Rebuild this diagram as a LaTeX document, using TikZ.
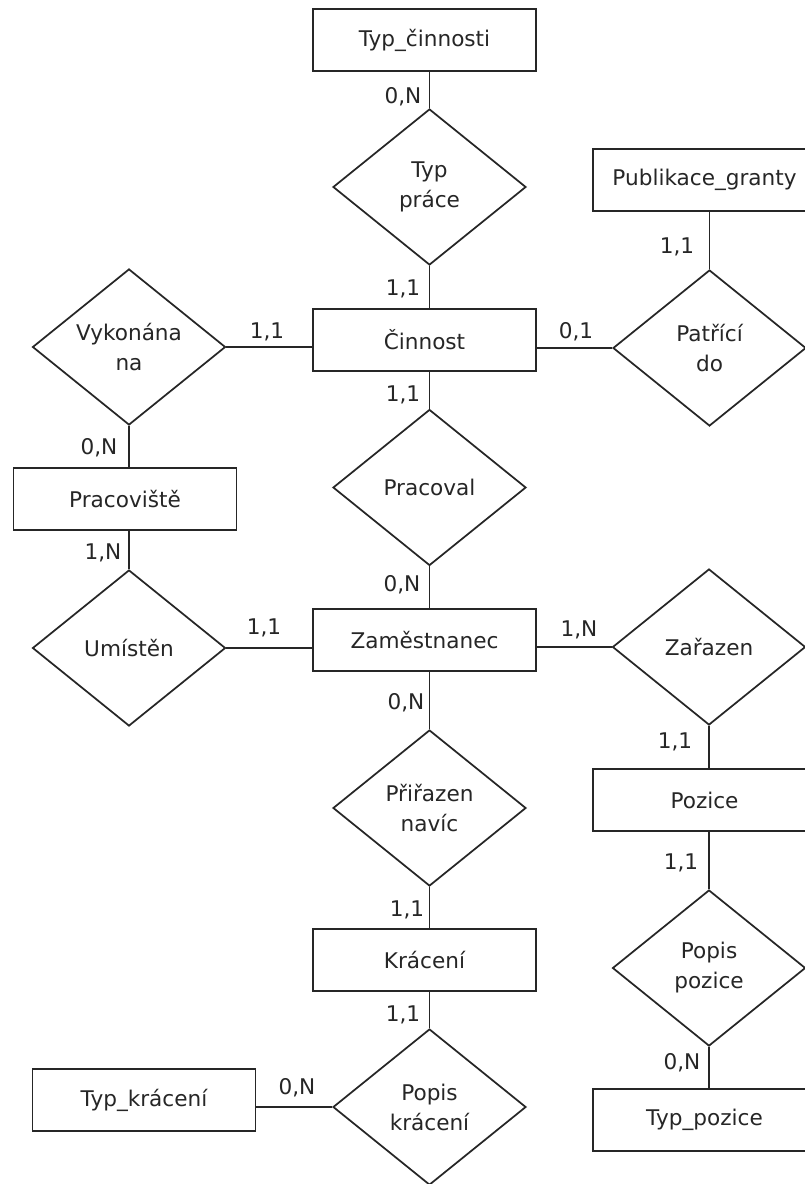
\documentclass[tikz,border=0pt]{standalone}
\usepackage{fontspec}
\setmainfont{DejaVu Sans}
\usetikzlibrary{shapes.geometric}
\definecolor{ink}{HTML}{262626}
\begin{document}
\begin{tikzpicture}[x=0.75pt,y=-0.75pt,
  txt/.style={font=\fontsize{16.2}{22.5}\selectfont, text=ink},
  ent/.style={txt, draw=ink, line width=1.3pt, minimum width=167.25pt, minimum height=46.5pt, inner sep=0pt},
  rel/.style={txt, diamond, draw=ink, line width=1.3pt, minimum width=144.75pt, minimum height=117pt, inner sep=0pt, align=center},
  card/.style={txt, inner sep=0pt},
  conn/.style={draw=ink, line width=1.3pt}]
\clip (0,0) rectangle (805,1184);
\fill[white] (0,0) rectangle (805,1184);

% entities
\node[ent] (tc)   at (424.5,40)  {Typ\_činnosti};
\node[ent] (cin)  at (424.5,340) {Činnost};
\node[ent] (zam)  at (424.5,640) {Zaměstnanec};
\node[ent] (kra)  at (424.5,960) {Krácení};
\node[ent] (prac) at (125,499)   {Pracoviště};
\node[ent] (tk)   at (144,1100)  {Typ\_krácení};
\node[ent] (pg)   at (704.5,180) {Publikace\_granty};
\node[ent] (poz)  at (704.5,800) {Pozice};
\node[ent] (tp)   at (704.5,1120) {Typ\_pozice};

% relationships
\node[rel] (tpr)  at (429.5,187)  {Typ\\práce};
\node[rel] (vyk)  at (129,347)    {Vykonána\\na};
\node[rel] (pat)  at (709.5,348)  {Patřící\\do};
\node[rel] (pcv)  at (429.5,487.5) {Pracoval};
\node[rel] (umi)  at (129,648)    {Umístěn};
\node[rel] (zar)  at (709,647)    {Zařazen};
\node[rel] (pri)  at (429.5,808)  {Přiřazen\\navíc};
\node[rel] (ppoz) at (709,968)    {Popis\\pozice};
\node[rel] (pkr)  at (429.5,1107) {Popis\\krácení};

% connectors
\draw[conn] (tpr.north) -- (tpr.north |- tc.south);
\draw[conn] (tpr.south) -- (tpr.south |- cin.north);
\draw[conn] (vyk.east) -- (vyk.east -| cin.west);
\draw[conn] (pat.west) -- (pat.west -| cin.east);
\draw[conn] (pat.north) -- (pat.north |- pg.south);
\draw[conn] (vyk.south) -- (vyk.south |- prac.north);
\draw[conn] (pcv.north) -- (pcv.north |- cin.south);
\draw[conn] (pcv.south) -- (pcv.south |- zam.north);
\draw[conn] (umi.north) -- (umi.north |- prac.south);
\draw[conn] (umi.east) -- (umi.east -| zam.west);
\draw[conn] (zar.west) -- (zar.west -| zam.east);
\draw[conn] (zar.south) -- (zar.south |- poz.north);
\draw[conn] (ppoz.north) -- (ppoz.north |- poz.south);
\draw[conn] (ppoz.south) -- (ppoz.south |- tp.north);
\draw[conn] (pri.north) -- (pri.north |- zam.south);
\draw[conn] (pri.south) -- (pri.south |- kra.north);
\draw[conn] (pkr.north) -- (pkr.north |- kra.south);
\draw[conn] (pkr.west) -- (pkr.west -| tk.east);

% cardinalities
\node[card] (c1)  at (403,97)   {0,N};
\node[card] (c2)  at (403,289)  {1,1};
\node[card] (c3)  at (267,332)  {1,1};
\node[card] (c4)  at (576,332)  {0,1};
\node[card] (c5)  at (677,247)  {1,1};
\node[card] (c6)  at (99,448)   {0,N};
\node[card] (c7)  at (403,395)  {1,1};
\node[card] (c8)  at (103,553)  {1,N};
\node[card] (c9)  at (402,585)  {0,N};
\node[card] (c10) at (264,628)  {1,1};
\node[card] (c11) at (579,630)  {1,N};
\node[card] (c12) at (406,703)  {0,N};
\node[card] (c13) at (675,742)  {1,1};
\node[card] (c14) at (407,910)  {1,1};
\node[card] (c15) at (681,863)  {1,1};
\node[card] (c16) at (682,1063) {0,N};
\node[card] (c17) at (403,1015) {1,1};
\node[card] (c18) at (297,1088) {0,N};
\end{tikzpicture}
\end{document}
